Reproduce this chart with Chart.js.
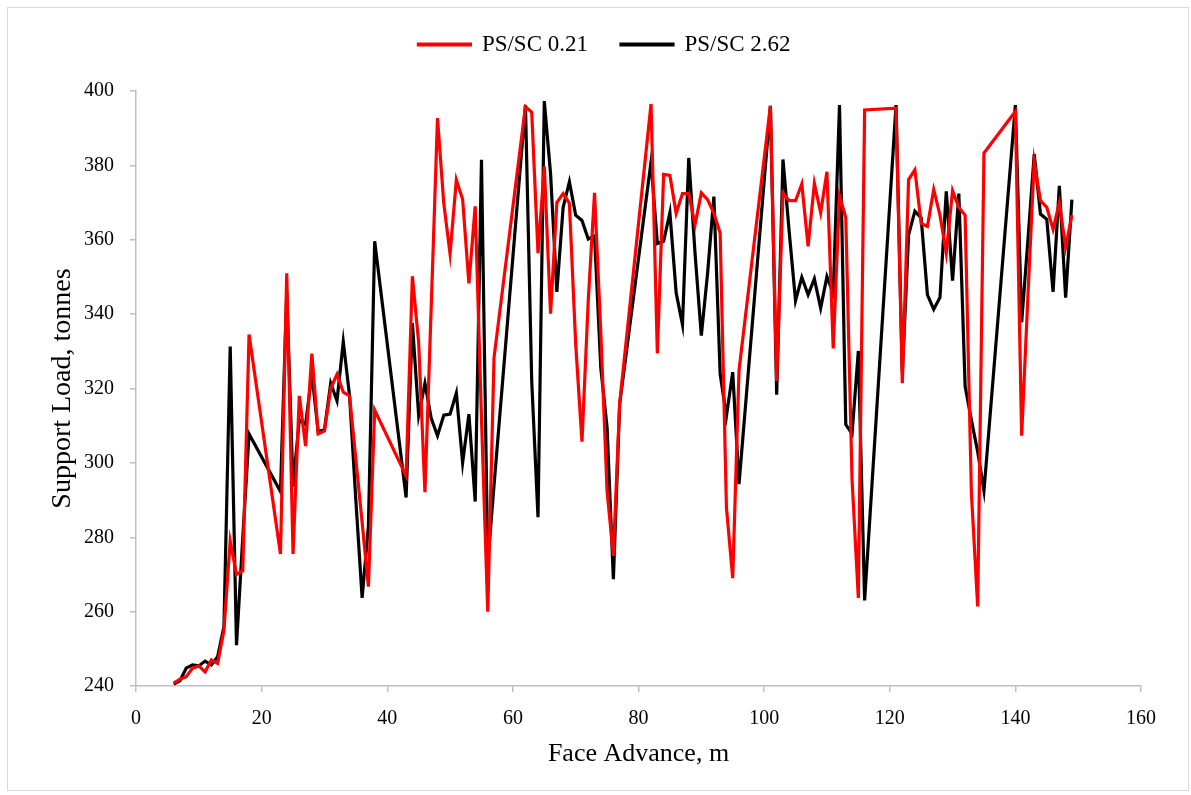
<!DOCTYPE html>
<html lang="en">

<head>
    <meta charset="UTF-8">
    <title>Support Load vs Face Advance</title>
    <style>
        body {
            margin: 0;
            background: #ffffff;
        }

        .chart-box {
            width: 1191px;
            height: 795px;
        }
    </style>
    <script src="https://cdn.jsdelivr.net/npm/chart.js"></script>
</head>

<body>

    <div class="chart-box">
        <canvas id="loadChart" width="1191" height="795"></canvas>
    </div>

    <script>
        // face advance positions (m), shared by both series
        const faceAdvance = [
            6, 7, 8, 9, 10, 11, 12, 13, 14, 15, 16, 17, 18,
            23, 24, 25, 26, 27, 28, 29, 30, 31, 32, 33, 34, 35, 36, 37, 38,
            43, 44, 45, 46, 47, 48, 49, 50, 51, 52, 53, 54, 55, 56, 57,
            62, 63, 64, 65, 66, 67, 68, 69, 70, 71, 72, 73, 74, 75, 76, 77,
            82, 83, 84, 85, 86, 87, 88, 89, 90, 91, 92, 93, 94, 95, 96,
            101, 102, 103, 104, 105, 106, 107, 108, 109, 110, 111, 112, 113, 114, 115, 116,
            121, 122, 123, 124, 125, 126, 127, 128, 129, 130, 131, 132, 133, 134, 135,
            140, 141, 142, 143, 144, 145, 146, 147, 148, 149
        ];

        // PS/SC 0.21 support load (tonnes)
        const loadRed = [
            240.8, 241.8, 242.5, 244.8, 245.4, 243.8, 247, 246.1, 255, 279, 270, 271, 334.5,
            275.5, 351, 275.5, 318, 304.5, 329.4, 307.8, 308.6, 320, 323.8, 319, 318, 301, 284, 266.7, 314.2,
            296.5, 350.2, 332.4, 292.1, 342, 392.7, 369.8, 356.2, 376.1, 370.9, 348.3, 369, 312, 260, 328.3,
            395.8, 394.3, 356.4, 379.7, 340.1, 370, 372.4, 369.8, 332, 305.7, 343.6, 372.6, 335, 292.3, 275, 316,
            396.5, 329.4, 377.6, 377.3, 367.1, 372.4, 372.4, 364, 372.6, 370.8, 367.1, 361.8, 288, 269, 324.8,
            396, 322, 372.5, 370.5, 370.5, 375, 358.2, 375.1, 367.3, 378.3, 330.8, 371.8, 366, 295.5, 263.7, 394.9,
            395.4, 321.4, 376.2, 378.8, 364.4, 363.6, 373.5, 366.6, 356.4, 373.2, 368.7, 366.6, 291.8, 261.4, 383.3,
            394.5, 307.3, 345, 381, 370.5, 368.7, 362.8, 370, 358, 366.6
        ];

        // PS/SC 2.62 support load (tonnes)
        const loadBlack = [
            240.5, 241.4, 244.8, 245.7, 245.4, 246.7, 245.7, 247.9, 256, 331.3, 251, 280, 307.8,
            292.3, 345.8, 293.6, 311.6, 310.3, 324, 308.4, 308.9, 321.4, 316.7, 332.6, 318, 290, 263.7, 283, 359.6,
            290.7, 337.6, 312.8, 321.4, 312, 307.3, 312.8, 313.1, 318.8, 300, 313.1, 289.6, 381.5, 273, 294,
            396.2, 322, 285.4, 397.3, 377.8, 346, 368.7, 375.6, 366.6, 365.2, 360.2, 361, 325.5, 309.5, 268.7, 315.8,
            381, 359, 359.6, 367.3, 345.7, 337.2, 382, 356.4, 334.2, 351, 371.6, 323.9, 312.6, 324.4, 294.3,
            396, 318.3, 381.6, 362, 343.6, 349.9, 345.2, 349.5, 341.6, 350.1, 345.6, 396.2, 310.3, 307.8, 330.1, 263,
            396.2, 324.2, 361.3, 367.7, 365.9, 345.2, 341.3, 344.5, 373, 349, 372.4, 320.6, 311.5, 303, 292.5,
            396.2, 337.8, 360, 383, 366.9, 365.5, 346, 374.5, 344.4, 370.8
        ];

        const seriesNames = ['PS/SC 0.21', 'PS/SC 2.62'];
        const xTicks = [0, 20, 40, 60, 80, 100, 120, 140, 160];
        const yTicks = [240, 260, 280, 300, 320, 340, 360, 380, 400];

        const serif = "'Liberation Serif', 'Times New Roman', serif";
        const axisGray = '#bfbfbf';

        function toPoints(ys) {
            return faceAdvance.map((x, i) => ({ x: x, y: ys[i] }));
        }

        // thin grey frame round the whole chart
        const framePlugin = {
            id: 'frame',
            beforeDraw(chart) {
                const ctx = chart.ctx;
                ctx.save();
                ctx.strokeStyle = '#d9d9d9';
                ctx.lineWidth = 1;
                ctx.strokeRect(7.5, 7.5, chart.width - 10, chart.height - 12);
                ctx.restore();
            }
        };

        // legend sits a bit right of the canvas middle in the original
        const legendShift = {
            id: 'legendShift',
            afterLayout(chart) {
                if (chart.legend) {
                    chart.legend.left += 34;
                    chart.legend.right += 34;
                }
            }
        };

        const ctx = document.getElementById('loadChart').getContext('2d');

        new Chart(ctx, {
            type: 'line',
            data: {
                datasets: [{
                    label: seriesNames[0],
                    data: toPoints(loadRed),
                    borderColor: '#ff0000',
                    backgroundColor: '#ff0000',
                    borderWidth: 3.2,
                    pointRadius: 0,
                    tension: 0
                }, {
                    label: seriesNames[1],
                    data: toPoints(loadBlack),
                    borderColor: '#000000',
                    backgroundColor: '#000000',
                    borderWidth: 3.2,
                    pointRadius: 0,
                    tension: 0
                }]
            },
            options: {
                responsive: false,
                animation: false,
                layout: {
                    padding: { left: 0, right: 50, top: 0, bottom: 0 }
                },
                plugins: {
                    legend: {
                        position: 'top',
                        labels: {
                            boxWidth: 52,
                            boxHeight: 1,
                            padding: 33,
                            color: '#000000',
                            font: { family: serif, size: 23 }
                        }
                    },
                    // empty spacer between legend and plot
                    subtitle: {
                        display: true,
                        text: '',
                        weight: 500,
                        font: { size: 10 },
                        padding: { top: 0, bottom: 13 }
                    },
                    tooltip: { enabled: false }
                },
                scales: {
                    x: {
                        type: 'linear',
                        min: 0,
                        max: 160,
                        afterBuildTicks(scale) {
                            scale.ticks = xTicks.map(v => ({ value: v }));
                        },
                        afterFit(scale) {
                            scale.height = 109;
                        },
                        grid: {
                            drawOnChartArea: false,
                            drawTicks: true,
                            tickLength: 6,
                            color: axisGray,
                            lineWidth: 1.5
                        },
                        border: { color: axisGray, width: 1.5 },
                        ticks: {
                            color: '#000000',
                            padding: 15,
                            maxRotation: 0,
                            font: { family: serif, size: 20 }
                        },
                        title: {
                            display: true,
                            text: 'Face Advance, m',
                            color: '#000000',
                            padding: { top: 0, bottom: 25 },
                            font: { family: serif, size: 26 }
                        }
                    },
                    y: {
                        min: 240,
                        max: 400,
                        afterBuildTicks(scale) {
                            scale.ticks = yTicks.map(v => ({ value: v }));
                        },
                        afterFit(scale) {
                            scale.width = 136;
                        },
                        grid: {
                            drawOnChartArea: false,
                            drawTicks: true,
                            tickLength: 6,
                            color: axisGray,
                            lineWidth: 1.5
                        },
                        border: { color: axisGray, width: 1.5 },
                        ticks: {
                            color: '#000000',
                            padding: 16,
                            font: { family: serif, size: 20 }
                        },
                        title: {
                            display: true,
                            text: 'Support Load, tonnes',
                            color: '#000000',
                            padding: { top: 46, bottom: 0 },
                            font: { family: serif, size: 28 }
                        }
                    }
                }
            },
            plugins: [framePlugin, legendShift]
        });
    </script>

</body>

</html>
